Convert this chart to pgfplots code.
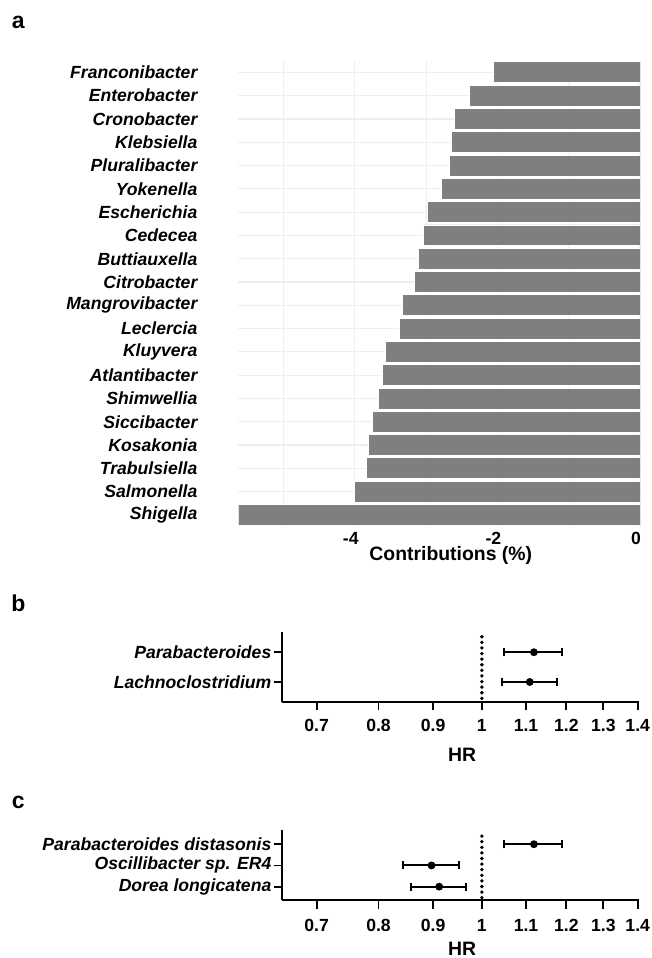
\documentclass[border=0pt]{standalone}
\usepackage{fontspec}
\setmainfont{Liberation Sans}
\usepackage{pgfplots}
\usepackage{pgfplotstable}
\pgfplotsset{compat=1.18}

\newcommand{\lab}{\fontsize{8.8}{10}\selectfont\bfseries}
\newcommand{\ttl}{\fontsize{9.7}{11}\selectfont\bfseries}
\definecolor{barg}{RGB}{127,127,127}
\definecolor{gridg}{RGB}{238,238,238}

\pgfplotstableread{
pos val
20 -2.05
19 -2.39
18 -2.60
17 -2.64
16 -2.67
15 -2.79
14 -2.98
13 -3.04
12 -3.11
11 -3.16
10 -3.33
9 -3.38
8 -3.57
7 -3.61
6 -3.67
5 -3.75
4 -3.81
3 -3.84
2 -4.01
1 -5.634
}\tabA

\pgfplotstableread{
pos est lo hi
2 1.119 1.050 1.189
1 1.109 1.044 1.175
}\tabB

\pgfplotstableread{
pos est lo hi
3 1.119 1.050 1.189
2 0.897 0.844 0.951
1 0.912 0.859 0.966
}\tabC

\begin{document}
\begin{tikzpicture}
\path[use as bounding box] (0,0) rectangle (326pt,-479pt);

\node[anchor=base west, inner sep=0pt, font=\fontsize{11.5}{12}\selectfont\bfseries] at (5.75pt,-14.15pt) {a};
\node[anchor=base west, inner sep=0pt, font=\fontsize{11.5}{12}\selectfont\bfseries] at (5.5pt,-305.85pt) {b};
\node[anchor=base west, inner sep=0pt, font=\fontsize{11.5}{12}\selectfont\bfseries] at (5.75pt,-404.15pt) {c};

% ---------------- panel a
\begin{axis}[
  at={(119.15pt,-30.35pt)}, anchor=north west,
  scale only axis, width=200.85pt, height=232.95pt,
  xbar, bar width=0.9,
  xmin=-5.634, xmax=0, ymin=0.5, ymax=20.5,
  xtick={-4,-2,0}, xticklabels={-4,-2,0},
  minor xtick={-5,-3,-1},
  ytick={1,...,20},
  yticklabels={Shigella,Salmonella,Trabulsiella,Kosakonia,Siccibacter,Shimwellia,Atlantibacter,Kluyvera,Leclercia,Mangrovibacter,Citrobacter,Buttiauxella,Cedecea,Escherichia,Yokenella,Pluralibacter,Klebsiella,Cronobacter,Enterobacter,Franconibacter},
  grid=both,
  major grid style={draw=gridg, line width=0.6pt},
  minor grid style={draw=gridg, line width=0.45pt},
  axis line style={draw=none},
  tick style={draw=none},
  xticklabel style={font=\lab, inner sep=0pt, anchor=center, yshift=-5.7pt, xshift=-2pt},
  yticklabel style={font=\lab\itshape, inner sep=0pt, anchor=east, xshift=-16pt},
  xlabel={Contributions (\%)},
  xlabel style={font=\ttl, at={(axis description cs:0.5,0)}, anchor=center, yshift=-14.45pt, xshift=5.8pt, inner sep=0pt},
]
\addplot[fill=barg, draw=white, line width=0.4pt] table[x=val, y=pos] {\tabA};
\end{axis}

% ---------------- panel b
\begin{axis}[
  at={(141.15pt,-315.85pt)}, anchor=north west,
  scale only axis, width=178.2pt, height=35pt,
  xmode=log, xmin=0.65, xmax=1.403, ymin=0.337, ymax=2.69,
  xtick={0.7,0.8,0.9,1,1.1,1.2,1.3,1.4},
  xticklabels={0.7,0.8,0.9,1,1.1,1.2,1.3,1.4},
  ytick={1,2}, yticklabels={Lachnoclostridium,Parabacteroides},
  axis x line*=bottom, axis y line*=left,
  axis line style={line width=0.9pt, black},
  tick align=outside, major tick length=4.3pt,
  tick style={line width=0.9pt, black},
  xticklabel style={font=\lab, inner sep=0pt, anchor=center, yshift=-7.5pt},
  yticklabel style={font=\lab\itshape, inner sep=0pt, anchor=east, xshift=-1pt},
  xlabel={HR},
  xlabel style={font=\ttl, at={(axis description cs:0.5,0)}, anchor=center, yshift=-26.6pt, xshift=0.8pt, inner sep=0pt},
  clip=false,
]
\addplot[black, line width=1.9pt, line cap=round, dash pattern=on 0pt off 2.8pt] coordinates {(1,0.45) (1,2.62)};
\addplot[black, only marks, mark=*, mark size=1.75pt,
  error bars/.cd, x dir=both, x explicit,
  error bar style={line width=1pt, black},
  error mark options={rotate=90, mark size=2pt, line width=1pt, black}]
  table[x=est, y=pos, x error plus expr=\thisrow{hi}-\thisrow{est}, x error minus expr=\thisrow{est}-\thisrow{lo}] {\tabB};
\end{axis}

% ---------------- panel c
\begin{axis}[
  at={(141.15pt,-415pt)}, anchor=north west,
  scale only axis, width=178.2pt, height=35pt,
  xmode=log, xmin=0.65, xmax=1.403, ymin=0.37, ymax=3.67,
  xtick={0.7,0.8,0.9,1,1.1,1.2,1.3,1.4},
  xticklabels={0.7,0.8,0.9,1,1.1,1.2,1.3,1.4},
  ytick={1,2,3}, yticklabels={Dorea longicatena,Oscillibacter sp. ER4,Parabacteroides distasonis},
  axis x line*=bottom, axis y line*=left,
  axis line style={line width=0.9pt, black},
  tick align=outside, major tick length=4.3pt,
  tick style={line width=0.9pt, black},
  xticklabel style={font=\lab, inner sep=0pt, anchor=center, yshift=-8.2pt},
  yticklabel style={font=\lab\itshape, inner sep=0pt, anchor=east, xshift=-1pt},
  xlabel={HR},
  xlabel style={font=\ttl, at={(axis description cs:0.5,0)}, anchor=center, yshift=-24.2pt, xshift=0.8pt, inner sep=0pt},
  clip=false,
]
\addplot[black, line width=1.9pt, line cap=round, dash pattern=on 0pt off 2.8pt] coordinates {(1,0.48) (1,3.62)};
\addplot[black, only marks, mark=*, mark size=1.75pt,
  error bars/.cd, x dir=both, x explicit,
  error bar style={line width=1pt, black},
  error mark options={rotate=90, mark size=2pt, line width=1pt, black}]
  table[x=est, y=pos, x error plus expr=\thisrow{hi}-\thisrow{est}, x error minus expr=\thisrow{est}-\thisrow{lo}] {\tabC};
\end{axis}
\end{tikzpicture}
\end{document}
